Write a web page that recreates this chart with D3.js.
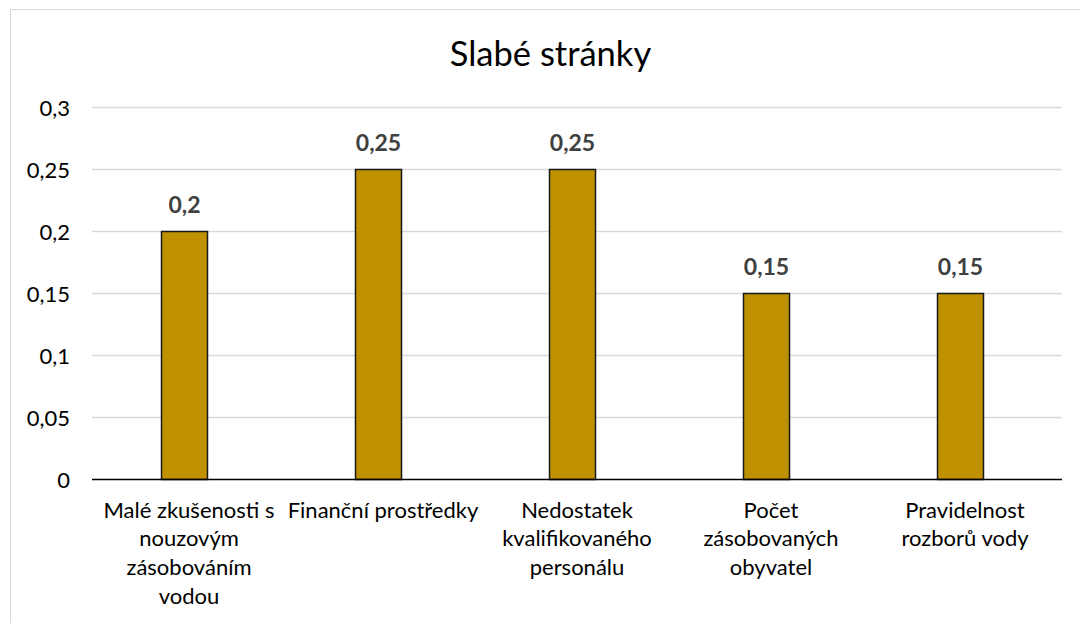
<!DOCTYPE html>
<html>
<head>
<meta charset="utf-8">
<script src="https://cdn.jsdelivr.net/npm/d3@7"></script>
<style>
  html, body { margin: 0; padding: 0; background: #fff; }
  svg { display: block; font-family: Lato, "Open Sans", sans-serif; }
</style>
</head>
<body>
<svg id="chart" width="1080" height="623"></svg>
<script>
// Weak points ("Slabé stránky") – weighted scores
const chartTitle = "Slabé stránky";
const categories = [
  "Malé zkušenosti s\nnouzovým\nzásobováním\nvodou",
  "Finanční prostředky",
  "Nedostatek\nkvalifikovaného\npersonálu",
  "Počet\nzásobovaných\nobyvatel",
  "Pravidelnost\nrozborů vody"
];
const values = [0.2, 0.25, 0.25, 0.15, 0.15];
const yTicks = [0, 0.05, 0.1, 0.15, 0.2, 0.25, 0.3];

const svg = d3.select("#chart");
const plot = { left: 92, right: 1062, top: 107.5, bottom: 479.5 };

const fmt = v => String(+v.toFixed(2)).replace(".", ",");

// outer chart frame
svg.append("rect")
  .attr("x", 10.5).attr("y", 9.5)
  .attr("width", 1080).attr("height", 640)
  .attr("fill", "#fff").attr("stroke", "#d9d9d9").attr("stroke-width", 1);

const x = d3.scaleBand().domain(categories).range([plot.left, plot.right]).padding(0);
const y = d3.scaleLinear().domain([0, 0.3]).range([plot.bottom, plot.top]);

// horizontal gridlines
svg.append("g").selectAll("line")
  .data(yTicks.filter(t => t > 0))
  .join("line")
  .attr("x1", plot.left).attr("x2", plot.right)
  .attr("y1", d => y(d)).attr("y2", d => y(d))
  .attr("stroke", "#d9d9d9").attr("stroke-width", 1.5);

// y axis labels
const yAxis = d3.axisLeft(y).tickValues(yTicks).tickFormat(fmt).tickSize(0).tickPadding(0);
const gy = svg.append("g").attr("transform", `translate(70,0)`).call(yAxis);
gy.select(".domain").remove();
gy.selectAll("text")
  .attr("font-family", "Lato, sans-serif")
  .attr("font-size", 22)
  .attr("fill", "#000")
  .attr("dy", "0.35em");

// bars
const barW = 46;
const barShift = -4.5;
const cx = d => x(d) + x.bandwidth() / 2 + barShift;
svg.append("g").selectAll("rect")
  .data(values)
  .join("rect")
  .attr("x", (d, i) => cx(categories[i]) - barW / 2)
  .attr("y", d => y(d))
  .attr("width", barW)
  .attr("height", d => y(0) - y(d))
  .attr("fill", "#bf9000")
  .attr("stroke", "#1a1a1a")
  .attr("stroke-width", 1.5);

// value labels
svg.append("g").selectAll("text")
  .data(values)
  .join("text")
  .attr("x", (d, i) => cx(categories[i]))
  .attr("y", d => y(d) - 19)
  .attr("text-anchor", "middle")
  .attr("font-size", 23)
  .attr("font-weight", "bold")
  .attr("fill", "#404040")
  .text(fmt);

// x axis line
svg.append("line")
  .attr("x1", plot.left).attr("x2", plot.right)
  .attr("y1", plot.bottom).attr("y2", plot.bottom)
  .attr("stroke", "#000").attr("stroke-width", 1.5);

// category labels (wrapped)
const xAxis = d3.axisBottom(x).tickSize(0).tickFormat("");
const gx = svg.append("g").attr("transform", `translate(0,${plot.bottom})`).call(xAxis);
gx.select(".domain").remove();
gx.selectAll(".tick").each(function(d) {
  const t = d3.select(this).append("text")
    .attr("text-anchor", "middle")
    .attr("font-family", "Lato, sans-serif")
    .attr("font-size", 22)
    .attr("fill", "#000")
    .attr("y", 38);
  d.split("\n").forEach((line, i) => {
    t.append("tspan").attr("x", 0).attr("dy", i === 0 ? 0 : 28.7).text(line);
  });
});

// title
svg.append("text")
  .attr("x", 550.5)
  .attr("y", 66)
  .attr("text-anchor", "middle")
  .attr("font-size", 34.5)
  .attr("fill", "#000")
  .text(chartTitle);
</script>
</body>
</html>
